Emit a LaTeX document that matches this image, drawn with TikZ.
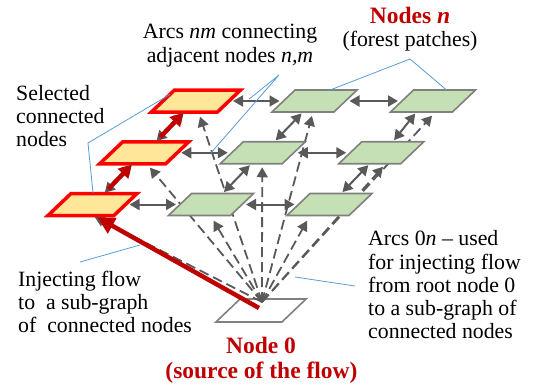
\documentclass[tikz,border=0pt]{standalone}
\usepackage{fontspec}
\setmainfont{Liberation Serif}
\usetikzlibrary{arrows.meta,calc}
\definecolor{grn}{HTML}{C5E0B4}
\definecolor{ylw}{HTML}{FFE699}
\definecolor{brd}{HTML}{808080}
\definecolor{arr}{HTML}{595959}
\definecolor{dred}{HTML}{C00000}
\definecolor{bl}{HTML}{5B9BD5}
\newcommand{\mystrut}{\rule{0pt}{17pt}}
\pgfdeclarelayer{back}
\pgfdeclarelayer{mid}
\pgfsetlayers{back,mid,main}
\begin{document}
\begin{tikzpicture}[x=1pt,y=-1pt,
  patch/.style={draw=brd, fill=grn, line width=1.6pt, xslant=1.05, minimum width=62pt, minimum height=22pt, inner sep=0pt, outer sep=0pt},
  selpatch/.style={patch, draw=red, fill=ylw, line width=3.5pt, minimum width=66pt},
  rootpatch/.style={patch, fill=white, minimum width=66pt, minimum height=23pt},
  biarrow/.style={draw=arr, line width=2pt, {Triangle[length=10pt,width=11pt]}-{Triangle[length=10pt,width=11pt]}, shorten <=4pt, shorten >=4pt},
  arcline/.style={draw=arr, line width=1.8pt, dash pattern=on 10pt off 5pt, -{Triangle[length=10pt,width=11pt]}},
  flow/.style={draw=dred, line width=4.5pt, -{Triangle[length=17pt,width=17pt]}},
  redarrow/.style={draw=dred, line width=4.5pt, -{Triangle[length=12pt,width=14pt]}, shorten <=6pt, shorten >=2pt},
  callout/.style={draw=bl, line width=0.8pt},
  txt/.style={font=\fontsize{21.8}{23.3}\selectfont, inner sep=0pt},
  hdr/.style={font=\bfseries\fontsize{23.5}{25}\selectfont, text=dred, inner sep=0pt}]
\useasboundingbox (0,0) rectangle (535,388);

% root node 0
\begin{pgfonlayer}{back}
\node[rootpatch] (n0) at (261,310.5) {};
\end{pgfonlayer}

% forest patches
\node[selpatch] (YT) at (196,101) {};
\node[patch] (GA) at (314.5,101) {};
\node[patch] (GB) at (433,101) {};
\node[selpatch] (YM) at (144.25,152.75) {};
\node[patch] (GC) at (262.75,152.75) {};
\node[patch] (GD) at (381.25,152.75) {};
\node[selpatch] (YB) at (92.5,204.5) {};
\node[patch] (GE) at (211,204.5) {};
\node[patch] (GF) at (329.5,204.5) {};

% arcs 0n
\coordinate (src) at (262,302);
\coordinate (flowsrc) at (259,308);
\begin{pgfonlayer}{mid}
\draw[arcline, shorten >=5pt] (src) -- ([xshift=14pt]YT.south);
\draw[arcline, shorten >=5pt] (src) -- ([xshift=14pt]YM.south);
\draw[arcline, shorten >=3pt] (src) -- ([xshift=11pt]YB.south);
\draw[arcline, shorten >=4pt] (src) -- ([xshift=10pt]GA.south);
\draw[arcline, shorten >=5pt] (src) -- ([xshift=14pt]GB.south);
\draw[arcline, shorten >=3.5pt] (src) -- ([xshift=11pt]GC.south);
\draw[arcline, shorten >=4pt] (src) -- ([xshift=16pt]GD.south);
\draw[arcline, shorten >=6pt] (src) -- ([xshift=11pt]GE.south);
\draw[arcline, shorten >=6pt] (src) -- ([xshift=-8pt]GF.south);
\end{pgfonlayer}

% injecting flow
\draw[flow, shorten >=4pt] (flowsrc) -- ([xshift=13pt]YB.south);

% arcs nm
\draw[biarrow] (YT.east) -- (GA.west);
\draw[biarrow] (GA.east) -- (GB.west);
\draw[biarrow] (YM.east) -- (GC.west);
\draw[biarrow] (GC.east) -- (GD.west);
\draw[biarrow] (YB.east) -- (GE.west);
\draw[biarrow] (GE.east) -- (GF.west);
\draw[biarrow, shorten <=2pt, shorten >=2pt] (GC.north) -- (GA.south);
\draw[biarrow, shorten <=2pt, shorten >=2pt] (GD.north) -- ([xshift=-5pt]GB.south);
\draw[biarrow, shorten <=2pt, shorten >=2pt] (GE.north) -- (GC.south);
\draw[biarrow, shorten <=2pt, shorten >=2pt] (GF.north) -- (GD.south);
\draw[biarrow, shorten <=1pt, shorten >=1pt] (YB.north) -- (YM.south);
\draw[redarrow] (YB.north) -- (YM.south);
\draw[biarrow, shorten <=1pt, shorten >=1pt] (YM.north) -- (YT.south);
\draw[redarrow] (YM.north) -- (YT.south);

% labels
\node[txt, anchor=north, align=center] (lblnm) at (230,21.5) {\mystrut Arcs \textit{nm} connecting\\adjacent nodes \textit{n,m}};
\node[hdr, anchor=base] (lbln) at (410,23.3) {Nodes \textit{n}};
\node[txt, anchor=base] (lblfp) at (410,46.7) {(forest patches)};
\node[txt, anchor=north west, align=left] (lblsel) at (16,83) {\mystrut Selected\\connected\\nodes};
\node[txt, anchor=north west, align=left] (lblinj) at (18,269) {\mystrut Injecting flow\\to~ a sub-graph\\of~ connected nodes};
\node[txt, anchor=north west, align=left] (lblarc) at (368,228.5) {\mystrut Arcs 0\textit{n} – used\\for injecting flow\\from root node 0\\to a sub-graph of\\connected nodes};
\node[hdr, anchor=base] (lbl0) at (261,353.3) {Node 0};
\node[hdr, anchor=base] (lblsrc) at (261.5,378.3) {(source of the flow)};

% callout lines
\coordinate (csel) at (88,143);
\draw[callout] ($(YT.north west)!0.2!(YT.south west)$) -- (csel) -- ([xshift=-11pt]YB.north);
\coordinate (cnm) at (279,75);
\draw[callout] ($(YT.east)!0.37!(GA.west)+(0,-2)$) -- (cnm) -- ($(YM.east)!0.62!(GC.west)$);
\coordinate (cn) at (410,59);
\draw[callout] ([xshift=4pt]GA.north) -- (cn) -- ([xshift=2pt]GB.north);
\coordinate (cinjA) at (80,262);
\coordinate (cinjB) at (140,245);
\draw[callout] (cinjA) -- (cinjB);
\coordinate (carcA) at (355,286);
\coordinate (carcB) at (295,277);
\draw[callout] (carcA) -- (carcB);
\end{tikzpicture}
\end{document}
